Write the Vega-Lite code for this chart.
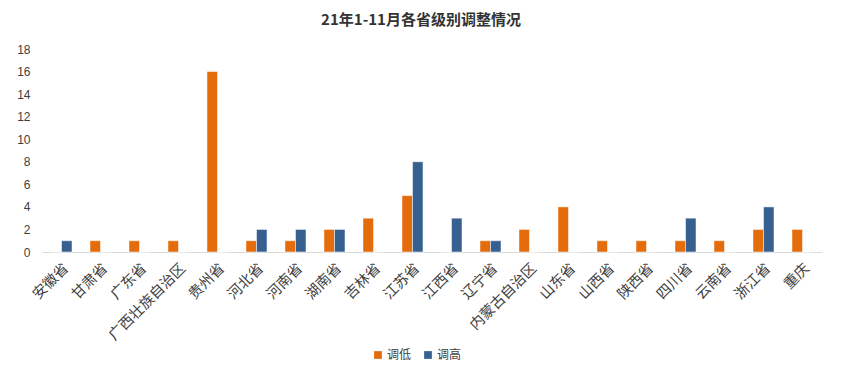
{
  "$schema": "https://vega.github.io/schema/vega-lite/v6.json",
  "width": 780,
  "height": 203,
  "autosize": {"type": "none"},
  "padding": {"left": 42, "top": 49, "right": 20, "bottom": 125},
  "background": "#ffffff",
  "title": {
    "text": "21年1-11月各省级别调整情况",
    "font": "Noto Sans CJK SC",
    "fontSize": 15,
    "fontWeight": "bold",
    "color": "#333333",
    "anchor": "middle",
    "dx": -11,
    "offset": 15
  },
  "data": {
    "values": [
      {"province": "安徽省", "type": "调低", "count": 0},
      {"province": "安徽省", "type": "调高", "count": 1},
      {"province": "甘肃省", "type": "调低", "count": 1},
      {"province": "甘肃省", "type": "调高", "count": 0},
      {"province": "广东省", "type": "调低", "count": 1},
      {"province": "广东省", "type": "调高", "count": 0},
      {"province": "广西壮族自治区", "type": "调低", "count": 1},
      {"province": "广西壮族自治区", "type": "调高", "count": 0},
      {"province": "贵州省", "type": "调低", "count": 16},
      {"province": "贵州省", "type": "调高", "count": 0},
      {"province": "河北省", "type": "调低", "count": 1},
      {"province": "河北省", "type": "调高", "count": 2},
      {"province": "河南省", "type": "调低", "count": 1},
      {"province": "河南省", "type": "调高", "count": 2},
      {"province": "湖南省", "type": "调低", "count": 2},
      {"province": "湖南省", "type": "调高", "count": 2},
      {"province": "吉林省", "type": "调低", "count": 3},
      {"province": "吉林省", "type": "调高", "count": 0},
      {"province": "江苏省", "type": "调低", "count": 5},
      {"province": "江苏省", "type": "调高", "count": 8},
      {"province": "江西省", "type": "调低", "count": 0},
      {"province": "江西省", "type": "调高", "count": 3},
      {"province": "辽宁省", "type": "调低", "count": 1},
      {"province": "辽宁省", "type": "调高", "count": 1},
      {"province": "内蒙古自治区", "type": "调低", "count": 2},
      {"province": "内蒙古自治区", "type": "调高", "count": 0},
      {"province": "山东省", "type": "调低", "count": 4},
      {"province": "山东省", "type": "调高", "count": 0},
      {"province": "山西省", "type": "调低", "count": 1},
      {"province": "山西省", "type": "调高", "count": 0},
      {"province": "陕西省", "type": "调低", "count": 1},
      {"province": "陕西省", "type": "调高", "count": 0},
      {"province": "四川省", "type": "调低", "count": 1},
      {"province": "四川省", "type": "调高", "count": 3},
      {"province": "云南省", "type": "调低", "count": 1},
      {"province": "云南省", "type": "调高", "count": 0},
      {"province": "浙江省", "type": "调低", "count": 2},
      {"province": "浙江省", "type": "调高", "count": 4},
      {"province": "重庆", "type": "调低", "count": 2},
      {"province": "重庆", "type": "调高", "count": 0}
    ]
  },
  "mark": {"type": "bar", "stroke": "#ffffff", "strokeOpacity": 0.5, "strokeWidth": 1},
  "encoding": {
    "x": {
      "field": "province",
      "type": "nominal",
      "sort": null,
      "scale": {"paddingInner": 0.46, "paddingOuter": 0.23},
      "axis": {
        "title": null,
        "labelAngle": -45,
        "labelFont": "Noto Sans CJK SC",
        "labelFontSize": 14.5,
        "labelColor": "#404040",
        "ticks": false,
        "labelPadding": 9,
        "domainColor": "#d9d9d9",
        "domainWidth": 1
      }
    },
    "xOffset": {"field": "type", "type": "nominal", "sort": ["调低", "调高"]},
    "y": {
      "field": "count",
      "type": "quantitative",
      "scale": {"domain": [0, 18]},
      "axis": {
        "title": null,
        "values": [0, 2, 4, 6, 8, 10, 12, 14, 16, 18],
        "grid": false,
        "domain": false,
        "ticks": false,
        "labelPadding": 12,
        "labelFont": "Liberation Sans",
        "labelFontSize": 12,
        "labelColor": "#404040"
      }
    },
    "color": {
      "field": "type",
      "type": "nominal",
      "sort": ["调低", "调高"],
      "scale": {"domain": ["调低", "调高"], "range": ["#E46C0A", "#35608F"]},
      "legend": {
        "title": null,
        "orient": "none",
        "direction": "horizontal",
        "legendX": 330,
        "legendY": 300,
        "symbolType": "square",
        "symbolSize": 60,
        "symbolStrokeWidth": 0,
        "labelFont": "Noto Sans CJK SC",
        "labelFontSize": 12,
        "labelColor": "#404040",
        "columnPadding": 10,
        "labelOffset": 3
      }
    }
  },
  "config": {"view": {"stroke": null}}
}
